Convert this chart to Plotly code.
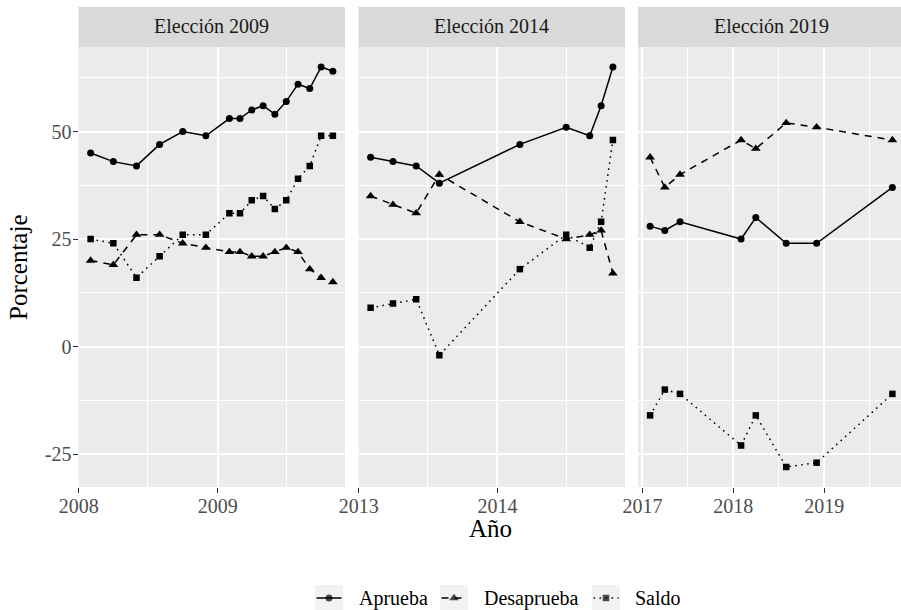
import plotly.graph_objects as go
import pandas as pd

W, H = 901, 610

# ---------------- data ----------------
paneles = ["Elección 2009", "Elección 2014", "Elección 2019"]

fechas_2009 = ["2008-02-01", "2008-04-01", "2008-06-01", "2008-08-01", "2008-10-01", "2008-12-01",
               "2009-02-01", "2009-03-01", "2009-04-01", "2009-05-01", "2009-06-01", "2009-07-01",
               "2009-08-01", "2009-09-01", "2009-10-01", "2009-11-01"]
aprueba_2009 = [45, 43, 42, 47, 50, 49, 53, 53, 55, 56, 54, 57, 61, 60, 65, 64]
desaprueba_2009 = [20, 19, 26, 26, 24, 23, 22, 22, 21, 21, 22, 23, 22, 18, 16, 15]
saldo_2009 = [25, 24, 16, 21, 26, 26, 31, 31, 34, 35, 32, 34, 39, 42, 49, 49]

fechas_2014 = ["2013-02-01", "2013-04-01", "2013-06-01", "2013-08-01", "2014-03-01",
               "2014-07-01", "2014-09-01", "2014-10-01", "2014-11-01"]
aprueba_2014 = [44, 43, 42, 38, 47, 51, 49, 56, 65]
desaprueba_2014 = [35, 33, 31, 40, 29, 25, 26, 27, 17]
saldo_2014 = [9, 10, 11, -2, 18, 26, 23, 29, 48]

fechas_2019 = ["2017-02-01", "2017-04-01", "2017-06-01", "2018-02-01", "2018-04-01",
               "2018-08-01", "2018-12-01", "2019-10-01"]
aprueba_2019 = [28, 27, 29, 25, 30, 24, 24, 37]
desaprueba_2019 = [44, 37, 40, 48, 46, 52, 51, 48]
saldo_2019 = [-16, -10, -11, -23, -16, -28, -27, -11]

series = ["Aprueba", "Desaprueba", "Saldo"]
y_ticks = [-25, 0, 25, 50]
y_tick_labels = ["-25", "0", "25", "50"]

# ---------------- style ----------------
FONT = "Liberation Serif"
estilos = {
    "Aprueba": dict(dash="solid", symbol="circle", size=7),
    "Desaprueba": dict(dash="7px,6px", symbol="triangle-up", size=8.5),
    "Saldo": dict(dash="1.6px,4.4px", symbol="square", size=6.5),
}

datos = [
    (fechas_2009, [aprueba_2009, desaprueba_2009, saldo_2009]),
    (fechas_2014, [aprueba_2014, desaprueba_2014, saldo_2014]),
    (fechas_2019, [aprueba_2019, desaprueba_2019, saldo_2019]),
]

# layout geometry (pixels from top-left)
panel_px = [(78.5, 345.0), (358.5, 625.0), (638.0, 901.0)]
full_w = 266.5
top_px, bot_px = 47.0, 487.0
strip_top = 7.0

# legend geometry
leg_key_x = [315.0, 440.0, 592.0]
leg_key_w = 28.0
leg_text_x = [357.0, 482.0, 633.0]
leg_top, leg_bot = 585.0, 610.0
leg_cy = 598.0


def fx(px):
    return px / W


def fy(py):
    return 1 - py / H


fig = go.Figure()

all_y = [v for _, vals in datos for s in vals for v in s]
ymin, ymax = min(all_y), max(all_y)
ypad = 0.05 * (ymax - ymin)
yrange = [ymin - ypad, ymax + ypad]

for i, (fechas, vals) in enumerate(datos):
    xs = pd.to_datetime(fechas)
    ax = "" if i == 0 else str(i + 1)
    for name, ys in zip(series, vals):
        st = estilos[name]
        fig.add_trace(go.Scatter(
            x=xs, y=ys, name=name, mode="lines+markers",
            xaxis="x" + ax, yaxis="y" + ax,
            line=dict(color="black", width=1.5, dash=st["dash"]),
            marker=dict(color="black", symbol=st["symbol"], size=st["size"], line=dict(width=0)),
            showlegend=False,
        ))
    lo, hi = xs.min(), xs.max()
    span = hi - lo
    rlo = lo - span * 0.05
    rhi = hi + span * 0.05
    x0, x1 = panel_px[i]
    frac = (x1 - x0) / full_w
    rhi = rlo + (rhi - rlo) * frac

    xaxis = dict(
        domain=[fx(x0), fx(x1)], anchor="y" + ax, type="date", automargin=False,
        range=[rlo, rhi], dtick="M12", tick0="2000-01-01", tickformat="%Y",
        showgrid=True, gridcolor="white", gridwidth=2.1,
        minor=dict(dtick="M6", tick0="2000-01-01", showgrid=True, gridcolor="white", gridwidth=1.1, ticks=""),
        ticks="outside", ticklen=5, tickwidth=1.4, tickcolor="#333333",
        ticklabelstandoff=-4,
        tickfont=dict(family=FONT, size=20, color="#4D4D4D"),
        showline=False, zeroline=False, fixedrange=True,
    )
    yaxis = dict(
        domain=[fy(bot_px), fy(top_px)], anchor="x" + ax, automargin=False,
        range=yrange, tickvals=y_ticks, ticktext=y_tick_labels,
        showgrid=True, gridcolor="white", gridwidth=2.1,
        minor=dict(dtick=12.5, tick0=12.5, showgrid=True, gridcolor="white", gridwidth=1.1, ticks=""),
        zeroline=False, showline=False, fixedrange=True,
        ticks="outside" if i == 0 else "", ticklen=5, tickwidth=1.4, tickcolor="#333333",
        ticklabelstandoff=-3,
        showticklabels=(i == 0),
        tickfont=dict(family=FONT, size=20, color="#4D4D4D"),
    )
    fig.update_layout({("xaxis" + ax): xaxis, ("yaxis" + ax): yaxis})

    # panel background
    fig.add_shape(type="rect", xref="paper", yref="paper",
                  x0=fx(x0), x1=fx(x1), y0=fy(bot_px), y1=fy(top_px),
                  fillcolor="#EBEBEB", line=dict(width=0), layer="below")
    # strip
    fig.add_shape(type="rect", xref="paper", yref="paper",
                  x0=fx(x0), x1=fx(x1), y0=fy(top_px), y1=fy(strip_top),
                  fillcolor="#D9D9D9", line=dict(width=0), layer="below")
    fig.add_annotation(xref="paper", yref="paper",
                       x=fx((x0 + x0 + full_w) / 2),
                       y=fy((strip_top + top_px) / 2 - 1),
                       text=paneles[i], showarrow=False, xanchor="center", yanchor="middle",
                       font=dict(family=FONT, size=20, color="#1A1A1A"))

# ---------------- legend (drawn by hand at the bottom) ----------------
fig.update_layout(
    xaxis4=dict(domain=[0, 1], range=[0, W], visible=False, fixedrange=True, anchor="y4"),
    yaxis4=dict(domain=[0, fy(leg_top - 5)], range=[H, leg_top - 5], visible=False,
                fixedrange=True, anchor="x4"),
)
for k, name in enumerate(series):
    st = estilos[name]
    kx0 = leg_key_x[k]
    kx1 = kx0 + leg_key_w
    fig.add_shape(type="rect", xref="paper", yref="paper",
                  x0=fx(kx0), x1=fx(kx1), y0=fy(leg_bot), y1=fy(leg_top),
                  fillcolor="#F2F2F2", line=dict(width=0), layer="below")
    fig.add_trace(go.Scatter(
        x=[kx0 + 1.5, (kx0 + kx1) / 2, kx1 - 1.5], y=[leg_cy, leg_cy, leg_cy],
        xaxis="x4", yaxis="y4", mode="lines+markers", showlegend=False, hoverinfo="skip",
        line=dict(color="black", width=1.5, dash=st["dash"]),
        marker=dict(color="black", symbol=st["symbol"], size=[0, st["size"], 0], line=dict(width=0)),
    ))
    fig.add_annotation(xref="paper", yref="paper", x=fx(leg_text_x[k]), y=fy(leg_cy),
                       text=name, showarrow=False, xanchor="left", yanchor="middle",
                       font=dict(family=FONT, size=20, color="black"))

# axis titles
fig.add_annotation(xref="paper", yref="paper", x=fx(491), y=fy(528), text="Año",
                   showarrow=False, xanchor="center", yanchor="middle",
                   font=dict(family=FONT, size=25, color="black"))
fig.add_annotation(xref="paper", yref="paper", x=fx(18), y=fy((top_px + bot_px) / 2),
                   text="Porcentaje", textangle=-90, showarrow=False,
                   xanchor="center", yanchor="middle",
                   font=dict(family=FONT, size=25, color="black"))

fig.update_layout(
    width=W, height=H, autosize=False,
    margin=dict(l=0, r=0, t=0, b=0, pad=0),
    paper_bgcolor="white", plot_bgcolor="rgba(0,0,0,0)",
    font=dict(family=FONT, size=20, color="black"),
    showlegend=False,
)

fig.write_html("out.html", config={"displayModeBar": False, "staticPlot": False},
               post_script="document.body.style.margin='0';document.body.style.overflow='hidden';")
